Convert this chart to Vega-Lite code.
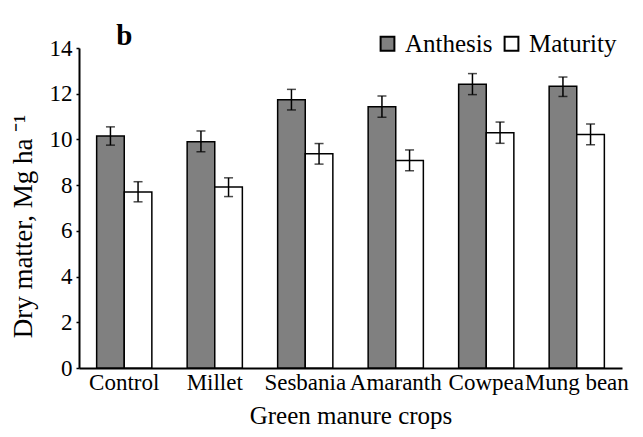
{
  "$schema": "https://vega.github.io/schema/vega-lite/v6.json",
  "width": 543,
  "height": 320,
  "autosize": {"type": "none"},
  "padding": {"left": 79, "top": 48, "right": 21, "bottom": 69},
  "background": "white",
  "data": {"values": [
    {"crop": "Control", "stage": "Anthesis", "value": 10.15, "lo": 9.75, "hi": 10.55},
    {"crop": "Control", "stage": "Maturity", "value": 7.7, "lo": 7.27, "hi": 8.15},
    {"crop": "Millet", "stage": "Anthesis", "value": 9.9, "lo": 9.46, "hi": 10.37},
    {"crop": "Millet", "stage": "Maturity", "value": 7.92, "lo": 7.5, "hi": 8.32},
    {"crop": "Sesbania", "stage": "Anthesis", "value": 11.74, "lo": 11.29, "hi": 12.19},
    {"crop": "Sesbania", "stage": "Maturity", "value": 9.37, "lo": 8.92, "hi": 9.82},
    {"crop": "Amaranth", "stage": "Anthesis", "value": 11.43, "lo": 10.97, "hi": 11.9},
    {"crop": "Amaranth", "stage": "Maturity", "value": 9.08, "lo": 8.63, "hi": 9.54},
    {"crop": "Cowpea", "stage": "Anthesis", "value": 12.41, "lo": 11.96, "hi": 12.88},
    {"crop": "Cowpea", "stage": "Maturity", "value": 10.29, "lo": 9.83, "hi": 10.76},
    {"crop": "Mung bean", "stage": "Anthesis", "value": 12.33, "lo": 11.88, "hi": 12.73},
    {"crop": "Mung bean", "stage": "Maturity", "value": 10.22, "lo": 9.77, "hi": 10.67}
  ]},
  "encoding": {
    "x": {"field": "crop", "type": "nominal", "sort": ["Control", "Millet", "Sesbania", "Amaranth", "Cowpea", "Mung bean"],
      "scale": {"paddingInner": 0.39, "paddingOuter": 0.195},
      "axis": {"title": "Green manure crops", "labelAngle": 0, "ticks": false, "domainColor": "black", "domainWidth": 2, "labelFont": "Liberation Serif", "labelFontSize": 23, "labelColor": "black", "labelPadding": 3, "titleFont": "Liberation Serif", "titleFontSize": 25, "titleFontWeight": "normal", "titleColor": "black", "titlePadding": 9}}
  },
  "layer": [
    {
      "mark": {"type": "bar", "stroke": "black", "strokeWidth": 1.5},
      "encoding": {
        "xOffset": {"field": "stage", "type": "nominal", "sort": ["Anthesis", "Maturity"]},
        "y": {"field": "value", "type": "quantitative", "scale": {"domain": [0, 14], "nice": false},
          "axis": {"title": "Dry matter, Mg ha ⁻¹", "values": [0, 2, 4, 6, 8, 10, 12, 14], "grid": false, "domainColor": "black", "domainWidth": 2, "tickColor": "black", "tickSize": 3, "tickWidth": 1.5, "labelFont": "Liberation Serif", "labelFontSize": 23, "labelColor": "black", "labelPadding": 4, "titleFont": "Liberation Serif", "titleFontSize": 27, "titleFontWeight": "normal", "titleColor": "black", "titlePadding": 12, "titleY": 178}},
        "fill": {"field": "stage", "type": "nominal", "sort": ["Anthesis", "Maturity"],
          "scale": {"domain": ["Anthesis", "Maturity"], "range": ["#808080", "#ffffff"]},
          "legend": {"title": null, "orient": "none", "direction": "horizontal", "legendX": 296, "legendY": -17, "symbolType": "square", "symbolSize": 190, "symbolStrokeColor": "black", "symbolStrokeWidth": 2, "symbolOpacity": 1, "labelFont": "Liberation Serif", "labelFontSize": 25, "labelColor": "black", "labelOffset": 5, "columnPadding": 6}}
      }
    },
    {
      "mark": {"type": "rule", "color": "black", "strokeWidth": 1.5},
      "encoding": {"xOffset": {"field": "stage", "type": "nominal", "sort": ["Anthesis", "Maturity"]}, "y": {"field": "lo", "type": "quantitative"}, "y2": {"field": "hi"}}
    },
    {
      "mark": {"type": "tick", "color": "black", "thickness": 1.5, "size": 9, "orient": "horizontal"},
      "encoding": {"xOffset": {"field": "stage", "type": "nominal", "sort": ["Anthesis", "Maturity"]}, "y": {"field": "lo", "type": "quantitative"}}
    },
    {
      "mark": {"type": "tick", "color": "black", "thickness": 1.5, "size": 9, "orient": "horizontal"},
      "encoding": {"xOffset": {"field": "stage", "type": "nominal", "sort": ["Anthesis", "Maturity"]}, "y": {"field": "hi", "type": "quantitative"}}
    },
    {
      "data": {"values": [{"label": "b"}]},
      "mark": {"type": "text", "font": "Liberation Serif", "fontSize": 29, "fontWeight": "bold", "color": "black", "align": "center", "baseline": "alphabetic"},
      "encoding": {
        "x": {"datum": "Control"},
        "y": {"datum": 14.13, "type": "quantitative"},
        "text": {"field": "label"}
      }
    }
  ],
  "config": {"view": {"stroke": null}}
}
